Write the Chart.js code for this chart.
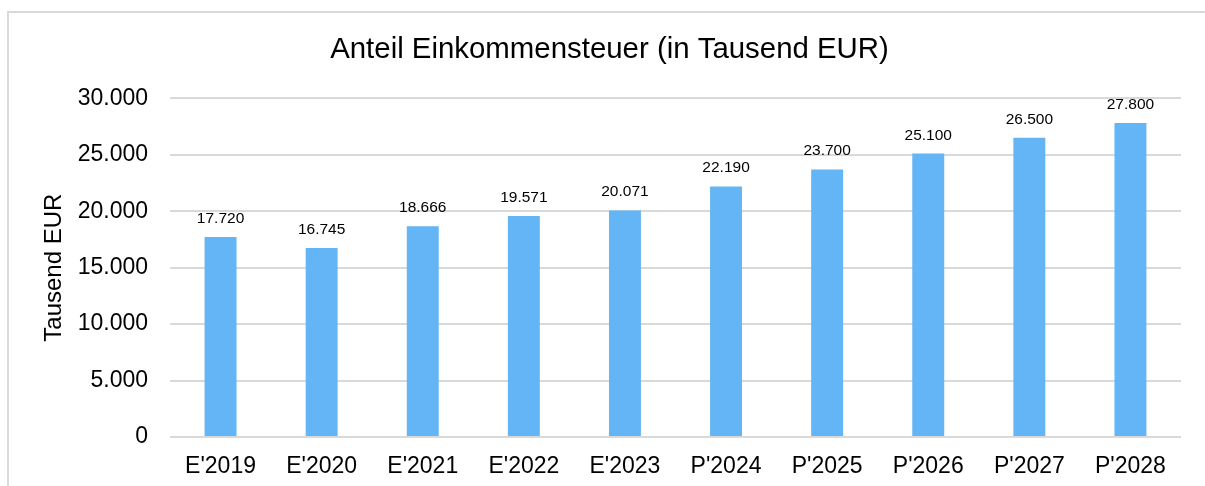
<!DOCTYPE html>
<html>
<head>
<meta charset="utf-8">
<script src="https://cdn.jsdelivr.net/npm/chart.js@4/dist/chart.umd.min.js"></script>
<style>
  html, body { margin: 0; padding: 0; background: #fff; }
  #card {
    position: absolute; left: 7px; top: 11px;
    width: 1400px; height: 600px;
    border-left: 2px solid #d9d9d9; border-top: 2px solid #d9d9d9;
  }
  #wrap { position: absolute; left: 0; top: 0; width: 1205px; height: 486px; }
</style>
</head>
<body>
<div id="card"></div>
<div id="wrap"><canvas id="myChart"></canvas></div>
<script>
// Daten
const categories = ["E'2019", "E'2020", "E'2021", "E'2022", "E'2023", "P'2024", "P'2025", "P'2026", "P'2027", "P'2028"];
const werte = [17720, 16745, 18666, 19571, 20071, 22190, 23700, 25100, 26500, 27800];
const yTicks = [0, 5000, 10000, 15000, 20000, 25000, 30000];

const FONT = "'Liberation Sans', Arial, sans-serif";

// Zahl im deutschen Format (Tausenderpunkt)
function fmt(v) {
    return String(Math.round(v)).replace(/\B(?=(\d{3})+(?!\d))/g, '.');
}

// Werte ueber den Balken
const barLabels = {
    id: 'barLabels',
    afterDatasetsDraw(chart) {
        const c = chart.ctx;
        const meta = chart.getDatasetMeta(0);
        c.save();
        c.font = '15.5px ' + FONT;
        c.fillStyle = '#000';
        c.textAlign = 'center';
        c.textBaseline = 'alphabetic';
        meta.data.forEach((bar, i) => {
            c.fillText(fmt(werte[i]), bar.x, bar.y - 14);
        });
        c.restore();
    }
};

let ctx = document.getElementById('myChart');
let myChart = new Chart(ctx, {
    type: 'bar',
    data: {
        labels: categories,
        datasets: [{
            data: werte,
            backgroundColor: '#63b5f5',
            borderWidth: 0,
            barPercentage: 0.316,
            categoryPercentage: 1
        }]
    },
    options: {
        responsive: true,
        maintainAspectRatio: false,
        animation: false,
        layout: { padding: { left: 14, right: 0, top: 0, bottom: 0 } },
        plugins: {
            legend: { display: false },
            tooltip: { enabled: false },
            title: {
                display: true,
                text: 'Anteil Einkommensteuer (in Tausend EUR)',
                color: '#000',
                font: { family: FONT, size: 29.4, weight: 'normal', lineHeight: 1.2 },
                padding: { top: 32, bottom: 31 }
            }
        },
        scales: {
            x: {
                grid: { display: false, drawTicks: false },
                border: { display: false },
                ticks: {
                    color: '#000',
                    font: { family: FONT, size: 23 },
                    padding: 16,
                    maxRotation: 0
                },
                afterFit(scale) { scale.height = 49; }
            },
            y: {
                min: 0,
                max: 30000,
                afterBuildTicks(scale) {
                    scale.ticks = yTicks.map(v => ({ value: v }));
                },
                grid: { color: '#d9d9d9', lineWidth: 2, drawTicks: false },
                border: { display: false },
                ticks: {
                    color: '#000',
                    font: { family: FONT, size: 23 },
                    padding: 22,
                    callback: v => fmt(v)
                },
                title: {
                    display: true,
                    text: 'Tausend EUR',
                    color: '#000',
                    font: { family: FONT, size: 24, lineHeight: 1.2 },
                    padding: { top: 26, bottom: 0 }
                },
                afterFit(scale) { scale.width = 156; }
            },
            // leerer Rand rechts, damit der Titel mittig ueber dem Rahmen steht
            rechts: {
                position: 'right',
                grid: { display: false, drawTicks: false },
                border: { display: false },
                ticks: { display: false },
                afterFit(scale) { scale.width = 24; }
            }
        }
    },
    plugins: [barLabels]
});
</script>
</body>
</html>
